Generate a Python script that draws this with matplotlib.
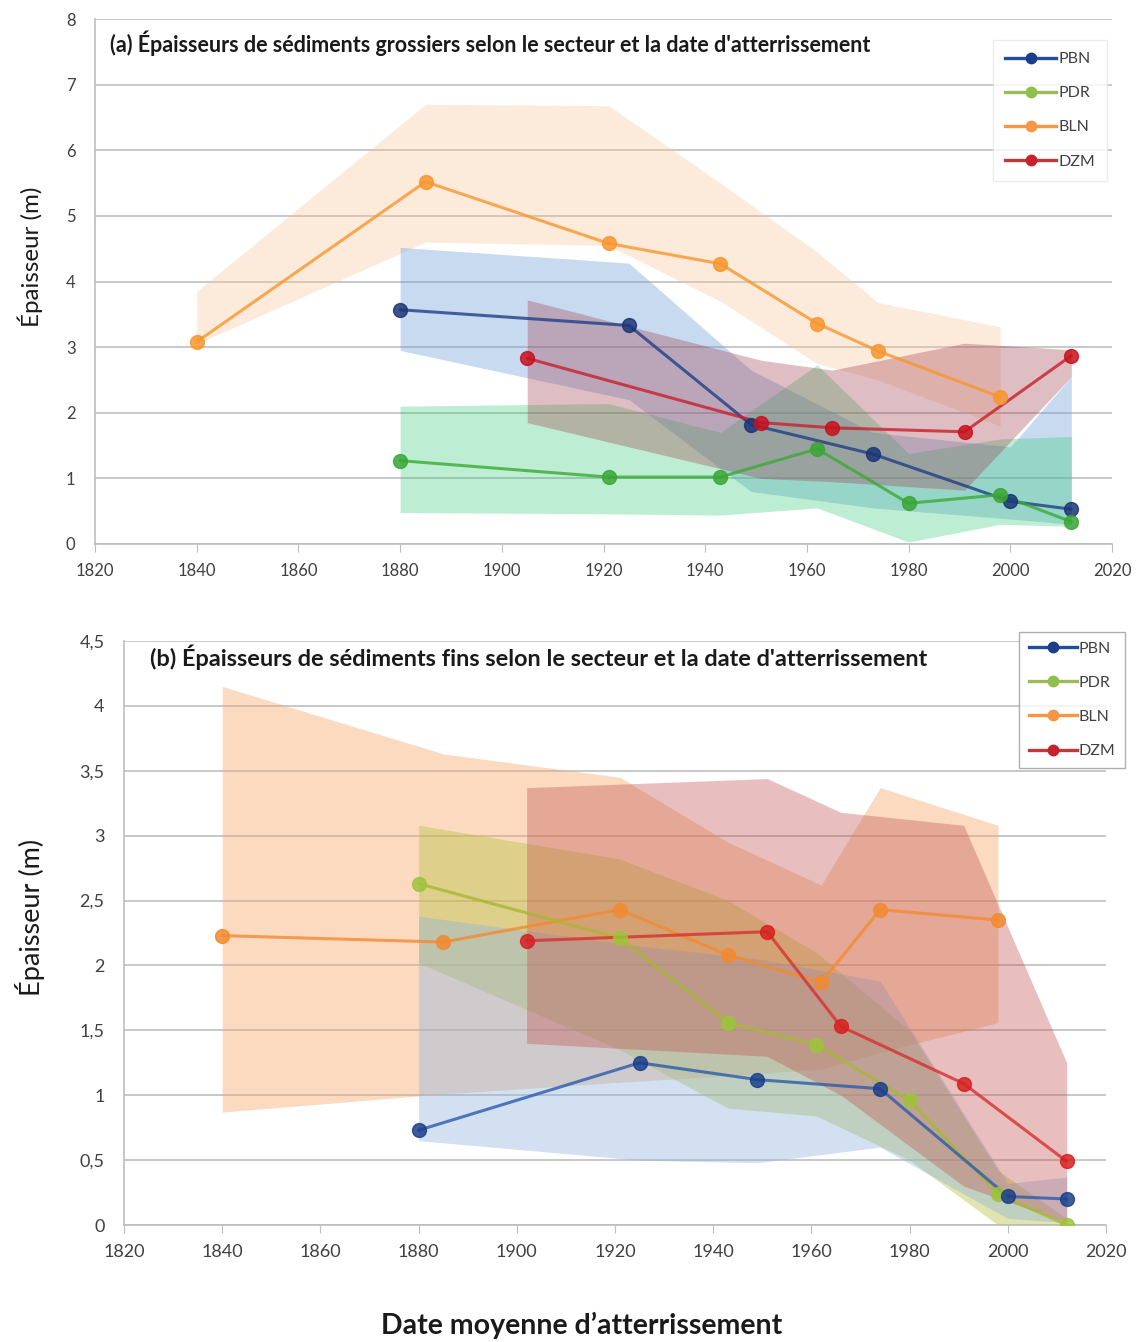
import matplotlib
matplotlib.use("Agg")
import matplotlib.pyplot as plt
from matplotlib.lines import Line2D

plt.rcParams['font.family'] = ['Lato', 'DejaVu Sans']

# ---------------- Panel (a): coarse sediments ----------------
a_pbn_x = [1880, 1925, 1949, 1973, 2000, 2012]
a_pbn_y = [3.57, 3.33, 1.82, 1.37, 0.65, 0.53]
a_pbn_lo = [2.95, 2.2, 0.8, 0.55, 0.38, 0.3]
a_pbn_hi = [4.52, 4.28, 2.65, 1.7, 1.48, 2.55]

a_pdr_x = [1880, 1921, 1943, 1962, 1980, 1998, 2012]
a_pdr_y = [1.27, 1.02, 1.02, 1.45, 0.62, 0.75, 0.34]
a_pdr_lo = [0.48, 0.46, 0.44, 0.55, 0.03, 0.3, 0.27]
a_pdr_hi = [2.1, 2.14, 1.7, 2.73, 1.38, 1.6, 1.64]

a_bln_x = [1840, 1885, 1921, 1943, 1962, 1974, 1998]
a_bln_y = [3.08, 5.52, 4.58, 4.27, 3.36, 2.94, 2.24]
a_bln_lo = [3.05, 4.6, 4.55, 3.7, 2.75, 2.5, 1.8]
a_bln_hi = [3.85, 6.7, 6.68, 5.5, 4.45, 3.68, 3.31]

a_dzm_x = [1905, 1951, 1965, 1991, 2012]
a_dzm_y = [2.83, 1.85, 1.77, 1.71, 2.87]
a_dzm_lo = [1.85, 1.0, 0.95, 0.82, 2.55]
a_dzm_hi = [3.72, 2.8, 2.65, 3.06, 2.96]

# ---------------- Panel (b): fine sediments ----------------
b_pbn_x = [1880, 1925, 1949, 1974, 2000, 2012]
b_pbn_y = [0.73, 1.25, 1.12, 1.05, 0.22, 0.2]
b_pbn_lo = [0.65, 0.5, 0.48, 0.6, 0.05, 0.02]
b_pbn_hi = [2.38, 2.15, 2.05, 1.88, 0.32, 0.37]

b_pdr_x = [1880, 1921, 1943, 1961, 1980, 1998, 2012]
b_pdr_y = [2.63, 2.21, 1.56, 1.39, 0.96, 0.24, 0.0]
b_pdr_lo = [2.02, 1.35, 0.9, 0.84, 0.5, 0.0, 0.0]
b_pdr_hi = [3.08, 2.82, 2.5, 2.1, 1.5, 0.42, 0.05]

b_bln_x = [1840, 1885, 1921, 1943, 1962, 1974, 1998]
b_bln_y = [2.23, 2.18, 2.43, 2.08, 1.87, 2.43, 2.35]
b_bln_lo = [0.87, 1.01, 1.1, 1.15, 1.2, 1.33, 1.56]
b_bln_hi = [4.15, 3.63, 3.45, 2.95, 2.62, 3.37, 3.08]

b_dzm_x = [1902, 1951, 1966, 1991, 2012]
b_dzm_y = [2.19, 2.26, 1.53, 1.09, 0.49]
b_dzm_lo = [1.4, 1.3, 1.0, 0.3, 0.02]
b_dzm_hi = [3.37, 3.44, 3.18, 3.08, 1.25]

sectors = ['PBN', 'PDR', 'BLN', 'DZM']
legend_colors = ['#1f4e9a', '#9bbb59', '#f79646', '#c0393b']
legend_marker_colors = ['#1a3f8a', '#8fc04a', '#f79646', '#c8202c']

a_title = "(a) Épaisseurs de sédiments grossiers selon le secteur et la date d'atterrissement"
b_title = "(b) Épaisseurs de sédiments fins selon le secteur et la date d'atterrissement"
ylabel = "Épaisseur (m)"
xlabel = "Date moyenne d’atterrissement"

a_yticks = [0, 1, 2, 3, 4, 5, 6, 7, 8]
b_yticks = [0, 0.5, 1, 1.5, 2, 2.5, 3, 3.5, 4, 4.5]
b_yticklabels = ['0', '0,5', '1', '1,5', '2', '2,5', '3', '3,5', '4', '4,5']
xticks = [1820, 1840, 1860, 1880, 1900, 1920, 1940, 1960, 1980, 2000, 2020]

W, H = 1139, 1342
fig = plt.figure(figsize=(W / 100, H / 100), dpi=100)

def px_rect(l, t, r, b):
    return [l / W, 1 - b / H, (r - l) / W, (b - t) / H]

axA = fig.add_axes(px_rect(95, 19, 1112, 544))
axB = fig.add_axes(px_rect(124, 641, 1106, 1225))

def style_axis(ax, ylim, yticks, yticklabels, fs):
    ax.set_xlim(1820, 2020)
    ax.set_ylim(*ylim)
    ax.set_xticks(xticks)
    ax.set_xticklabels([str(t) for t in xticks], fontsize=fs, color='#404040')
    ax.set_yticks(yticks)
    ax.set_yticklabels(yticklabels, fontsize=fs, color='#404040')
    ax.grid(axis='y', color='#c4c4c4', linewidth=1.3, zorder=0)
    ax.set_axisbelow(True)
    for s in ['top', 'right']:
        ax.spines[s].set_visible(False)
    for s in ['left', 'bottom']:
        ax.spines[s].set_color('#bdbdbd')
        ax.spines[s].set_linewidth(1.2)
    ax.tick_params(axis='x', length=6, color='#bdbdbd', pad=8)
    ax.tick_params(axis='y', length=0, pad=14)

style_axis(axA, (0, 8), a_yticks, [str(t) for t in a_yticks], 12)
style_axis(axB, (0, 4.5), b_yticks, b_yticklabels, 13)

# bands (panel a)
bandsA = [
    (a_bln_x, a_bln_lo, a_bln_hi, '#f8c898', 0.35),
    (a_pbn_x, a_pbn_lo, a_pbn_hi, '#6f9fd8', 0.38),
    (a_pdr_x, a_pdr_lo, a_pdr_hi, '#33cc77', 0.32),
    (a_dzm_x, a_dzm_lo, a_dzm_hi, '#9e3a4a', 0.33),
]
for x, lo, hi, c, al in bandsA:
    axA.fill_between(x, lo, hi, color=c, alpha=al, linewidth=0, zorder=2)

linesA = [
    (a_bln_x, a_bln_y, '#f7962d', '#f7962d'),
    (a_pbn_x, a_pbn_y, '#1f3f85', '#1a3577'),
    (a_pdr_x, a_pdr_y, '#3aaa35', '#3aa535'),
    (a_dzm_x, a_dzm_y, '#c8202c', '#c8101c'),
]
for x, y, c, mc in linesA:
    axA.plot(x, y, color=c, linewidth=2.2, alpha=0.8, zorder=4,
             solid_capstyle='round')
    axA.plot(x, y, linestyle='none', marker='o', markersize=10,
             markerfacecolor=mc, markeredgecolor=mc, alpha=0.85, zorder=5)

# bands (panel b)
bandsB = [
    (b_bln_x, b_bln_lo, b_bln_hi, '#f6a86a', 0.42),
    (b_pdr_x, b_pdr_lo, b_pdr_hi, '#b8c040', 0.42),
    (b_pbn_x, b_pbn_lo, b_pbn_hi, '#8fb3dd', 0.4),
    (b_dzm_x, b_dzm_lo, b_dzm_hi, '#c0504d', 0.36),
]
for x, lo, hi, c, al in bandsB:
    axB.fill_between(x, lo, hi, color=c, alpha=al, linewidth=0, zorder=2)

linesB = [
    (b_bln_x, b_bln_y, '#f28a30', '#f28a30'),
    (b_pdr_x, b_pdr_y, '#a8b832', '#9cc43a'),
    (b_pbn_x, b_pbn_y, '#2a5caa', '#1a3f8a'),
    (b_dzm_x, b_dzm_y, '#d62f2f', '#d62020'),
]
for x, y, c, mc in linesB:
    axB.plot(x, y, color=c, linewidth=2.2, alpha=0.8, zorder=4,
             solid_capstyle='round')
    axB.plot(x, y, linestyle='none', marker='o', markersize=10,
             markerfacecolor=mc, markeredgecolor=mc, alpha=0.85, zorder=5)

# legends
def make_handles():
    return [Line2D([0], [0], color=c, linewidth=2.4, marker='o', markersize=7.5,
                   markerfacecolor=mc, markeredgecolor=mc)
            for c, mc in zip(legend_colors, legend_marker_colors)]

legA = fig.legend(make_handles(), sectors, loc='upper left',
                  bbox_to_anchor=(993 / W, 1 - 40 / H), borderaxespad=0,
                  fontsize=11.5, frameon=True, fancybox=False,
                  handlelength=3.2, handletextpad=0.15, labelspacing=1.25,
                  borderpad=0.75, labelcolor='#404040')
legA.get_frame().set_edgecolor('#e6e6e6')
legA.get_frame().set_linewidth(1.0)

legB = fig.legend(make_handles(), sectors, loc='upper left',
                  bbox_to_anchor=(1019 / W, 1 - 632 / H), borderaxespad=0,
                  fontsize=11.5, frameon=True, fancybox=False,
                  handlelength=3.0, handletextpad=0.15, labelspacing=1.25,
                  borderpad=0.6, labelcolor='#404040')
legB.get_frame().set_edgecolor('#9a9a9a')
legB.get_frame().set_linewidth(1.0)

# titles inside panels
fig.text(110 / W, 1 - 43 / H, a_title, fontsize=15.5, fontweight='bold',
         color='#1a1a1a', ha='left', va='center')
fig.text(150 / W, 1 - 657 / H, b_title, fontsize=16.9, fontweight='bold',
         color='#1a1a1a', ha='left', va='center')

# axis labels
fig.text(30 / W, 1 - 257 / H, ylabel, rotation=90, fontsize=17.4,
         color='#1a1a1a', ha='center', va='center')
fig.text(30 / W, 1 - 917 / H, ylabel, rotation=90, fontsize=19.5,
         color='#1a1a1a', ha='center', va='center')
fig.text(582 / W, 1 - 1325 / H, xlabel, fontsize=20.5, fontweight='bold',
         color='#1a1a1a', ha='center', va='center')

fig.savefig('out.png', dpi=100)
